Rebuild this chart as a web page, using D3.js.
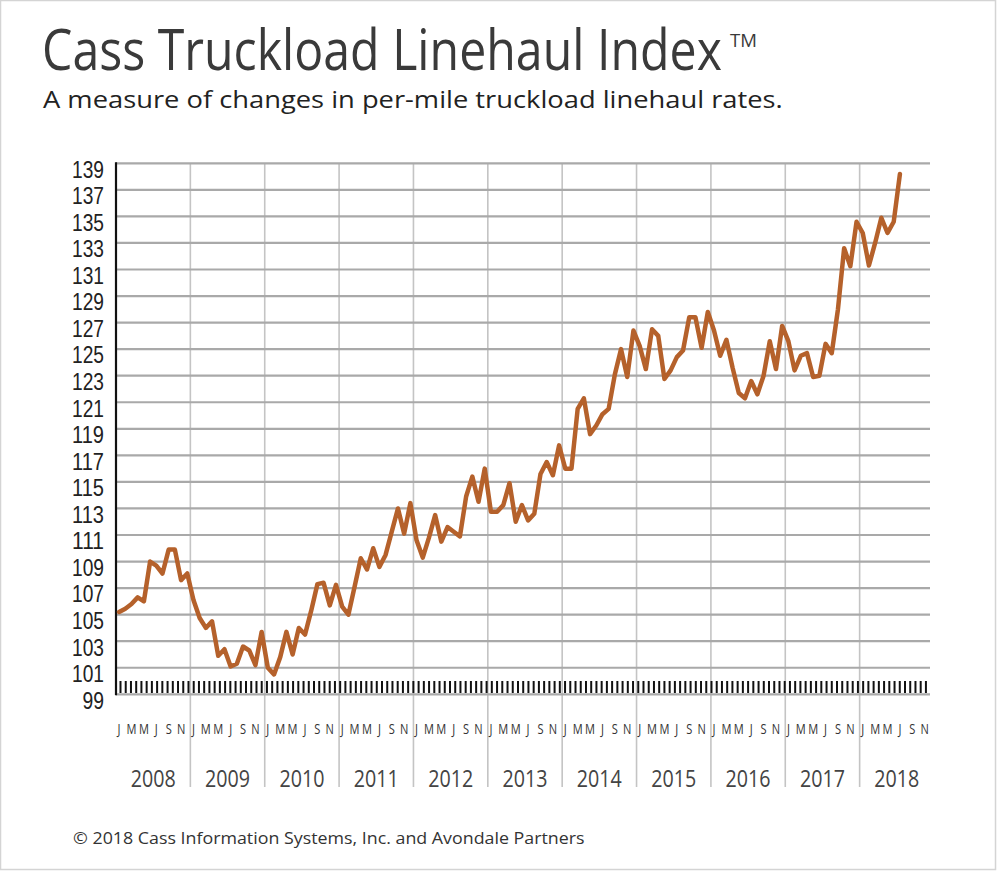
<!DOCTYPE html>
<html>
<head>
<meta charset="utf-8">
<script src="https://cdn.jsdelivr.net/npm/d3@7"></script>
<style>
  html, body { margin: 0; padding: 0; background: #fff; }
  svg { display: block; font-family: "Open Sans", "Noto Sans", sans-serif; }
</style>
</head>
<body>
<svg id="chart" width="1000" height="872"></svg>
<script>
// ---- data ----
const years = ["2008","2009","2010","2011","2012","2013","2014","2015","2016","2017","2018"];
const monthLetters = ["J","","M","","M","","J","","S","","N",""];
const yTicks = [99,101,103,105,107,109,111,113,115,117,119,121,123,125,127,129,131,133,135,137,139];

const idx2008 = [105.2,105.45,105.8,106.3,106.0,109.0,108.7,108.1,109.9,109.9,107.6,108.1];
const idx2009 = [106.1,104.75,104.0,104.5,101.9,102.4,101.1,101.3,102.6,102.3,101.2,103.7];
const idx2010 = [101.0,100.5,101.8,103.7,102.0,104.0,103.5,105.3,107.3,107.4,105.7,107.25];
const idx2011 = [105.6,105.0,107.1,109.25,108.4,110.0,108.6,109.5,111.25,113.0,111.1,113.4];
const idx2012 = [110.6,109.3,110.8,112.5,110.5,111.6,111.25,110.9,113.9,115.4,113.5,116.0];
const idx2013 = [112.75,112.75,113.25,114.9,112.0,113.25,112.1,112.6,115.6,116.5,115.5,117.75];
const idx2014 = [116.0,116.0,120.5,121.3,118.6,119.25,120.1,120.5,123.1,125.0,122.9,126.4];
const idx2015 = [125.25,123.5,126.5,126.0,122.75,123.4,124.4,124.9,127.4,127.4,125.1,127.8];
const idx2016 = [126.4,124.5,125.7,123.6,121.7,121.3,122.6,121.6,123.0,125.6,123.5,126.75];
const idx2017 = [125.6,123.4,124.5,124.7,122.9,123.0,125.4,124.7,128.0,132.6,131.25,134.6];
const idx2018 = [133.75,131.3,133.0,134.9,133.75,134.6,138.2];

const series = [].concat(idx2008, idx2009, idx2010, idx2011, idx2012, idx2013,
                         idx2014, idx2015, idx2016, idx2017, idx2018);

// ---- layout ----
const svg = d3.select("#chart");
const plotLeft = 116, plotRight = 930, plotTop = 163.3, plotBottom = 694.3;
const lineColor = "#b5612b";

const x = d3.scaleLinear().domain([0, years.length * 12]).range([plotLeft, 934]);
const y = d3.scaleLinear().domain([99, 139]).range([plotBottom, plotTop]);

// text helper: places a text at (px,py) and squeezes it horizontally to a target width
function label(parent, o) {
  const g = parent.append("g").attr("transform", `translate(${o.x},${o.y})`);
  const t = g.append("text")
    .attr("text-anchor", o.anchor || "start")
    .attr("font-size", o.size)
    .attr("fill", o.fill || "#222")
    .text(o.text);
  if (o.family) t.attr("font-family", o.family);
  if (o.width) {
    const w = t.node().getComputedTextLength();
    if (w > 0) t.attr("transform", `scale(${o.width / w},1)`);
  }
  return t;
}

// frame
svg.append("rect").attr("x", 0.5).attr("y", 0.5).attr("width", 995).attr("height", 869)
  .attr("fill", "#fff").attr("stroke", "#d4d4d4").attr("stroke-width", 1.5);

// title, superscript, subtitle
label(svg, { x: 42, y: 70, size: 56, fill: "#3a3a3a", width: 680, text: "Cass Truckload Linehaul Index" });
label(svg, { x: 730, y: 47, size: 19, fill: "#3a3a3a", width: 27, text: "TM" });
label(svg, { x: 43, y: 108, size: 23.5, fill: "#222", width: 740, text: "A measure of changes in per-mile truckload linehaul rates." });

// vertical year gridlines
const yearBounds = d3.range(1, years.length);
svg.append("g").selectAll("line").data(yearBounds).join("line")
  .attr("x1", d => x(d * 12)).attr("x2", d => x(d * 12))
  .attr("y1", plotTop).attr("y2", 787)
  .attr("stroke", "#c4c4c4").attr("stroke-width", 1.6);

// horizontal gridlines
svg.append("g").selectAll("line").data(yTicks).join("line")
  .attr("x1", plotLeft).attr("x2", plotRight)
  .attr("y1", d => y(d)).attr("y2", d => y(d))
  .attr("stroke", "#a9a9a9").attr("stroke-width", 2.2);

// axis break band (hatched)
const hatch = d3.range(0, 155);
svg.append("g").selectAll("line").data(hatch).join("line")
  .attr("x1", d => 120.5 + d * 5.23).attr("x2", d => 120.5 + d * 5.23)
  .attr("y1", 681).attr("y2", 693)
  .attr("stroke", "#111").attr("stroke-width", 2);

// left axis line
svg.append("line").attr("x1", plotLeft).attr("x2", plotLeft)
  .attr("y1", plotTop - 1).attr("y2", plotBottom + 1)
  .attr("stroke", "#111").attr("stroke-width", 2.2);

// y axis labels
const yAxis = d3.axisLeft(y).tickValues(yTicks).tickSize(0).tickPadding(0).tickFormat(d3.format("d"));
const gy = svg.append("g").attr("transform", `translate(104,0)`).call(yAxis);
gy.select(".domain").remove();
gy.selectAll("text")
  .attr("font-family", "'Liberation Sans', Arial, sans-serif")
  .attr("font-size", 23).attr("fill", "#222")
  .attr("dy", "0.6em")
  .each(function (d) {
    const w = this.getComputedTextLength();
    const target = d >= 100 ? 32 : 21.5;
    if (w > 0) d3.select(this).attr("transform", `scale(${target / w},1)`);
  });

// month letters
const monthData = [];
years.forEach((yr, yi) => monthLetters.forEach((m, mi) => {
  if (m) monthData.push({ letter: m, idx: yi * 12 + mi });
}));
svg.append("g").selectAll("g").data(monthData).join("g")
  .attr("transform", d => `translate(${x(d.idx + 0.5)},734) scale(0.74,1)`)
  .append("text").attr("text-anchor", "middle").attr("font-size", 15).attr("fill", "#333")
  .text(d => d.letter);

// year labels
const gYears = svg.append("g");
years.forEach((yr, i) => {
  label(gYears, { x: x(i * 12 + 6), y: 787, size: 24, fill: "#444", anchor: "middle", width: 45, text: yr });
});

// index line
const line = d3.line().x((d, i) => x(i + 0.5)).y(d => y(d));
svg.append("path").datum(series).attr("d", line)
  .attr("fill", "none").attr("stroke", lineColor).attr("stroke-width", 4.5)
  .attr("stroke-linejoin", "round").attr("stroke-linecap", "round");

// footer
label(svg, { x: 73, y: 844, size: 17, fill: "#333", width: 512,
  text: "© 2018 Cass Information Systems, Inc. and Avondale Partners" });
</script>
</body>
</html>
